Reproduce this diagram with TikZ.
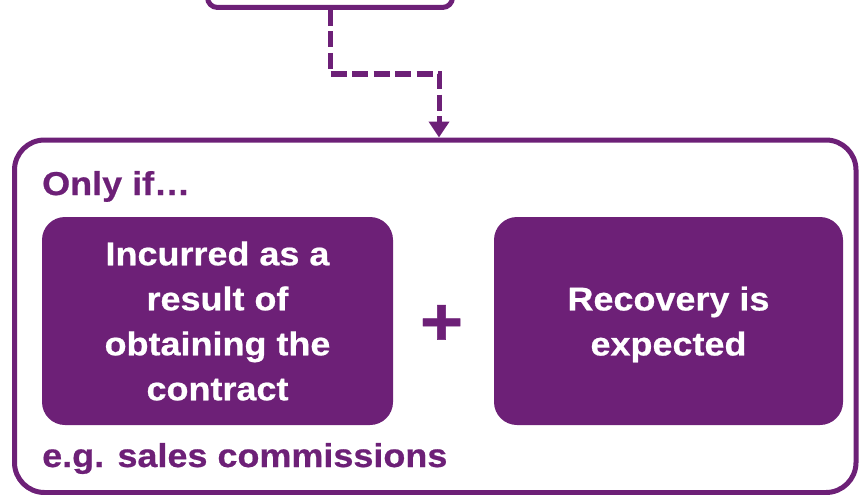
\documentclass[tikz,border=0pt]{standalone}
\usepackage{fontspec}
\usetikzlibrary{arrows.meta}
\newfontfamily\kfont{Liberation Sans}[FakeStretch=1.09, FakeBold=0.6]
\definecolor{kpurple}{RGB}{109,32,119}
\begin{document}
\begin{tikzpicture}[x=1pt,y=-1pt,
  frame/.style={draw=kpurple, line width=5pt, rounded corners=#1, inner sep=0pt},
  condbox/.style={fill=kpurple, text=white, rounded corners=23pt, minimum height=208pt,
    align=center, inner sep=0pt, font=\kfont\bfseries\fontsize{33}{45}\selectfont},
  caption/.style={text=kpurple, anchor=base west, inner sep=0pt, font=\kfont\bfseries\fontsize{33}{40}\selectfont},
  link/.style={draw=kpurple, line width=5pt, dash pattern=on 16pt off 5.5pt,
    -{Triangle[width=20pt,length=16pt]}}]
\useasboundingbox (0,0) rectangle (859,495);
\clip (0,0) rectangle (859,495);
\node[frame=10pt, minimum width=245pt, minimum height=60pt] (top) at (330,-22.5) {};
\node[frame=30pt, minimum width=841.5pt, minimum height=352.5pt] (big) at (435.25,316.25) {};
\node[caption] (only) at (42,195) {Only if\ldots};
\node[caption] (eg) at (42,467) {e.g. sales commissions};
\node[condbox, minimum width=351pt] (left) at (217.5,321) {Incurred as a\\result of\\obtaining the\\contract};
\node[condbox, minimum width=349pt] (right) at (668.5,321) {Recovery is\\\smash{expected}};
\node[text=kpurple, inner sep=0pt, font=\kfont\bfseries\fontsize{68}{68}\selectfont] (plus) at (441.5,325) {+};
\coordinate (knee) at (439,74);
\coordinate (tip) at (big.north -| knee);
\draw[link] (top.south) |- (knee) -- (tip);
\end{tikzpicture}
\end{document}
